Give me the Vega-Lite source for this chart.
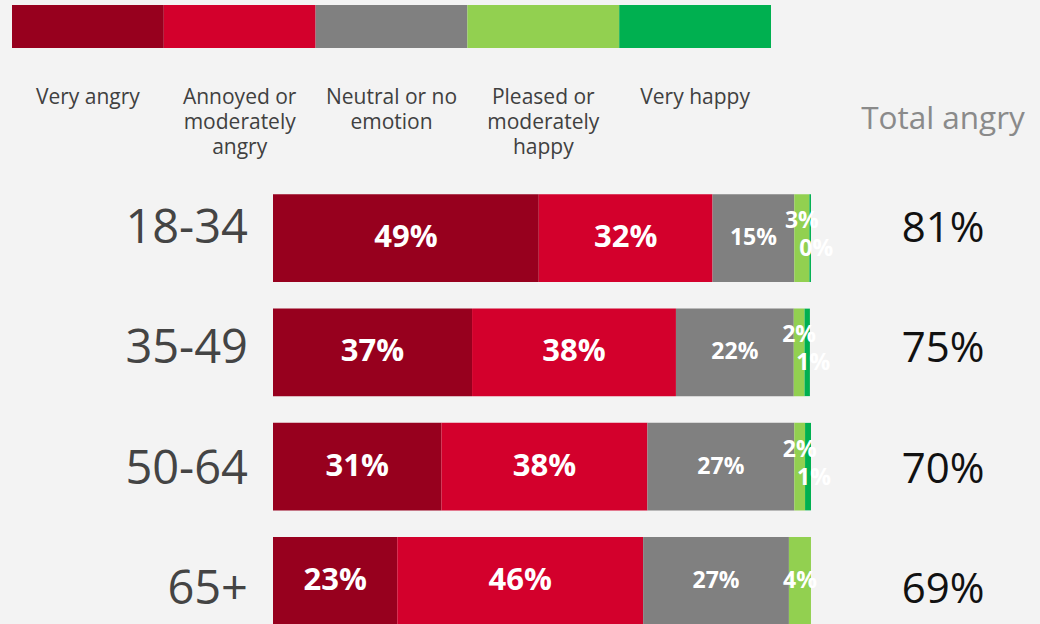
{
  "$schema": "https://vega.github.io/schema/vega-lite/v6.json",
  "background": "#f3f3f3",
  "padding": {"left": 12, "top": 5, "right": 24, "bottom": 0},
  "config": {"view": {"stroke": null}, "font": "Open Sans"},
  "datasets": {
    "emotions": [
      {"k": 0, "emotion": "Very angry"},
      {"k": 1, "emotion": "Annoyed or moderately angry"},
      {"k": 2, "emotion": "Neutral or no emotion"},
      {"k": 3, "emotion": "Pleased or moderately happy"},
      {"k": 4, "emotion": "Very happy"}
    ],
    "shares": [
      {"age": "18-34", "k": 0, "emotion": "Very angry", "v": 0.494},
      {"age": "18-34", "k": 1, "emotion": "Annoyed or moderately angry", "v": 0.323},
      {"age": "18-34", "k": 2, "emotion": "Neutral or no emotion", "v": 0.152},
      {"age": "18-34", "k": 3, "emotion": "Pleased or moderately happy", "v": 0.028},
      {"age": "18-34", "k": 4, "emotion": "Very happy", "v": 0.003},
      {"age": "35-49", "k": 0, "emotion": "Very angry", "v": 0.370},
      {"age": "35-49", "k": 1, "emotion": "Annoyed or moderately angry", "v": 0.379},
      {"age": "35-49", "k": 2, "emotion": "Neutral or no emotion", "v": 0.219},
      {"age": "35-49", "k": 3, "emotion": "Pleased or moderately happy", "v": 0.020},
      {"age": "35-49", "k": 4, "emotion": "Very happy", "v": 0.010},
      {"age": "50-64", "k": 0, "emotion": "Very angry", "v": 0.313},
      {"age": "50-64", "k": 1, "emotion": "Annoyed or moderately angry", "v": 0.383},
      {"age": "50-64", "k": 2, "emotion": "Neutral or no emotion", "v": 0.273},
      {"age": "50-64", "k": 3, "emotion": "Pleased or moderately happy", "v": 0.020},
      {"age": "50-64", "k": 4, "emotion": "Very happy", "v": 0.011},
      {"age": "65+", "k": 0, "emotion": "Very angry", "v": 0.231},
      {"age": "65+", "k": 1, "emotion": "Annoyed or moderately angry", "v": 0.457},
      {"age": "65+", "k": 2, "emotion": "Neutral or no emotion", "v": 0.271},
      {"age": "65+", "k": 3, "emotion": "Pleased or moderately happy", "v": 0.041}
    ],
    "totals": [
      {"age": "18-34", "total": 0.81},
      {"age": "35-49", "total": 0.75},
      {"age": "50-64", "total": 0.70},
      {"age": "65+", "total": 0.69}
    ]
  },
  "spacing": -54,
  "vconcat": [
    {
      "data": {"name": "emotions"},
      "width": 759,
      "height": 43,
      "mark": {"type": "rect"},
      "encoding": {
        "x": {
          "field": "emotion",
          "type": "nominal",
          "sort": {"field": "k"},
          "scale": {"paddingInner": 0, "paddingOuter": 0},
          "axis": {
            "title": null,
            "orient": "bottom",
            "domain": false,
            "ticks": false,
            "tickSize": 0,
            "grid": false,
            "labelAngle": 0,
            "labelPadding": 49,
            "labelBaseline": "middle",
            "labelLineHeight": 25,
            "labelFont": "Open Sans",
            "labelFontSize": 21,
            "labelColor": "#404040",
            "labelOverlap": false,
            "labelExpr": "datum.value == 'Annoyed or moderately angry' ? ['Annoyed or', 'moderately', 'angry'] : datum.value == 'Neutral or no emotion' ? ['Neutral or no', 'emotion'] : datum.value == 'Pleased or moderately happy' ? ['Pleased or', 'moderately', 'happy'] : datum.label"
          }
        },
        "color": {
          "field": "emotion",
          "type": "nominal",
          "scale": {
            "domain": ["Very angry", "Annoyed or moderately angry", "Neutral or no emotion", "Pleased or moderately happy", "Very happy"],
            "range": ["#97001e", "#d3002c", "#808080", "#92d050", "#00b050"]
          },
          "legend": null
        }
      }
    },
    {
      "spacing": 25,
      "hconcat": [
        {
          "data": {"name": "totals"},
          "width": 236,
          "height": 457,
          "mark": {"type": "text", "font": "Open Sans", "fontSize": 47, "color": "#444444", "align": "right", "baseline": "middle"},
          "encoding": {
            "y": {
              "field": "age",
              "type": "nominal",
              "sort": ["18-34", "35-49", "50-64", "65+"],
              "scale": {"type": "point", "padding": 0.4},
              "axis": null
            },
            "x": {"value": "width"},
            "text": {"field": "age", "type": "nominal"}
          }
        },
        {
          "width": 670,
          "height": 457,
          "title": {
            "text": "Total angry",
            "anchor": "end",
            "align": "center",
            "frame": "group",
            "font": "Open Sans",
            "fontSize": 31.5,
            "fontWeight": "normal",
            "color": "#8a8a8a",
            "offset": 46
          },
          "resolve": {"scale": {"y": "independent"}},
          "layer": [
            {
              "data": {"name": "shares"},
              "mark": {"type": "bar"},
              "encoding": {
                "y": {
                  "field": "age",
                  "type": "nominal",
                  "sort": ["18-34", "35-49", "50-64", "65+"],
                  "scale": {"paddingInner": 0.234, "paddingOuter": 0.117},
                  "axis": null
                },
                "x": {
                  "field": "v",
                  "type": "quantitative",
                  "stack": "zero",
                  "scale": {"domain": [0, 1.2454], "nice": false},
                  "axis": null
                },
                "order": {"field": "k", "type": "quantitative"},
                "color": {
                  "field": "emotion",
                  "type": "nominal",
                  "scale": {
                    "domain": ["Very angry", "Annoyed or moderately angry", "Neutral or no emotion", "Pleased or moderately happy", "Very happy"],
                    "range": ["#97001e", "#d3002c", "#808080", "#92d050", "#00b050"]
                  },
                  "legend": null
                }
              }
            },
            {
              "data": {"name": "shares"},
              "mark": {"type": "text", "color": "white", "fontWeight": "bold", "font": "Open Sans"},
              "encoding": {
                "y": {
                  "field": "age",
                  "type": "nominal",
                  "sort": ["18-34", "35-49", "50-64", "65+"],
                  "scale": {"paddingInner": 0.234, "paddingOuter": 0.117},
                  "axis": null
                },
                "x": {"field": "v", "type": "quantitative", "stack": "zero", "bandPosition": 0.5},
                "order": {"field": "k", "type": "quantitative"},
                "size": {"condition": {"test": "datum.k < 2", "value": 31}, "value": 23},
                "text": {
                  "condition": {"test": "datum.k < 3 || (datum.k == 3 && datum.age == '65+')", "field": "v", "type": "quantitative", "format": ".0%"},
                  "value": ""
                }
              }
            },
            {
              "data": {"name": "shares"},
              "mark": {"type": "text", "color": "white", "fontWeight": "bold", "font": "Open Sans", "fontSize": 23, "dy": -17},
              "encoding": {
                "y": {
                  "field": "age",
                  "type": "nominal",
                  "sort": ["18-34", "35-49", "50-64", "65+"],
                  "scale": {"paddingInner": 0.234, "paddingOuter": 0.117},
                  "axis": null
                },
                "x": {"field": "v", "type": "quantitative", "stack": "zero", "bandPosition": 0.5},
                "order": {"field": "k", "type": "quantitative"},
                "text": {
                  "condition": {"test": "datum.k == 3 && datum.age != '65+'", "field": "v", "type": "quantitative", "format": ".0%"},
                  "value": ""
                }
              }
            },
            {
              "data": {"name": "shares"},
              "mark": {"type": "text", "color": "white", "fontWeight": "bold", "font": "Open Sans", "fontSize": 23, "dy": 11, "dx": 6},
              "encoding": {
                "y": {
                  "field": "age",
                  "type": "nominal",
                  "sort": ["18-34", "35-49", "50-64", "65+"],
                  "scale": {"paddingInner": 0.234, "paddingOuter": 0.117},
                  "axis": null
                },
                "x": {"field": "v", "type": "quantitative", "stack": "zero", "bandPosition": 0.5},
                "order": {"field": "k", "type": "quantitative"},
                "text": {
                  "condition": {"test": "datum.k == 4", "field": "v", "type": "quantitative", "format": ".0%"},
                  "value": ""
                }
              }
            },
            {
              "data": {"name": "totals"},
              "mark": {"type": "text", "font": "Open Sans", "fontSize": 42, "color": "#111111", "align": "center", "baseline": "middle"},
              "encoding": {
                "y": {
                  "field": "age",
                  "type": "nominal",
                  "sort": ["18-34", "35-49", "50-64", "65+"],
                  "scale": {"type": "point", "padding": 0.4},
                  "axis": null
                },
                "x": {"value": "width"},
                "text": {"field": "total", "type": "quantitative", "format": ".0%"}
              }
            }
          ]
        }
      ]
    }
  ]
}
